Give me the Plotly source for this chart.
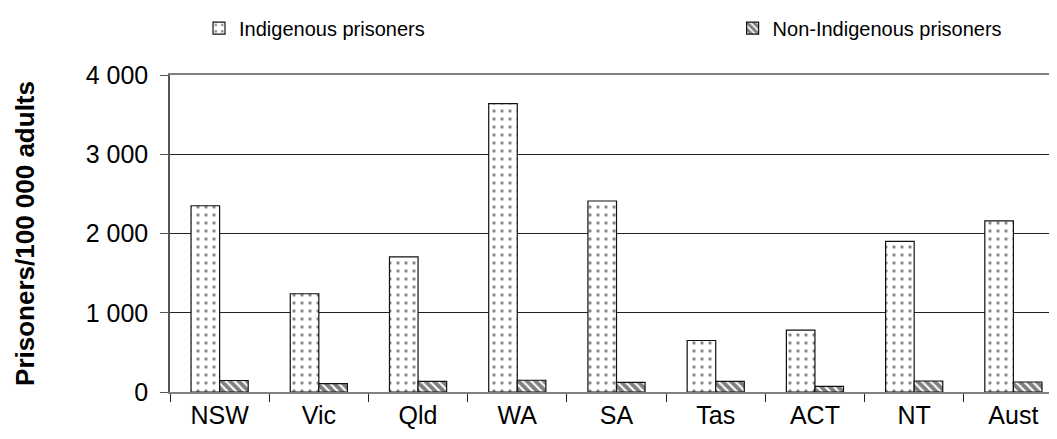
import plotly.graph_objects as go

categories = ["NSW", "Vic", "Qld", "WA", "SA", "Tas", "ACT", "NT", "Aust"]
indigenous = [2350, 1240, 1705, 3640, 2410, 650, 780, 1900, 2160]
non_indigenous = [145, 105, 135, 148, 122, 135, 72, 139, 126]
y_ticks = [0, 1000, 2000, 3000, 4000]

font_family = "Liberation Sans, Arial, sans-serif"

fig = go.Figure()
fig.add_trace(go.Bar(
    name="Indigenous prisoners",
    x=categories, y=indigenous,
    legend="legend",
    marker=dict(
        color="white",
        line=dict(color="#111111", width=1.2),
        pattern=dict(shape=".", fgcolor="#111111", bgcolor="white", size=8, solidity=0.13),
    ),
))
fig.add_trace(go.Bar(
    name="Non-Indigenous prisoners",
    x=categories, y=non_indigenous,
    legend="legend2",
    marker=dict(
        color="white",
        line=dict(color="#111111", width=1.2),
        pattern=dict(shape="\\", fgcolor="#000000", bgcolor="white", size=6, solidity=0.65),
    ),
))

legend_common = dict(
    orientation="h", yref="container", y=0.954, xanchor="left", yanchor="middle",
    font=dict(size=20), itemwidth=30, bgcolor="rgba(0,0,0,0)", borderwidth=0,
)

fig.update_layout(
    width=1057, height=439,
    margin=dict(l=162, r=2, t=67, b=55, autoexpand=False),
    paper_bgcolor="white", plot_bgcolor="white",
    barmode="group", bargap=0.424, bargroupgap=0,
    separators=". ",
    font=dict(family=font_family, size=25, color="black"),
    showlegend=True,
    legend=dict(x=0.0325, **legend_common),
    legend2=dict(x=0.630, **legend_common),
    xaxis=dict(
        showline=True, linecolor="#808080", linewidth=2, mirror=True,
        ticks="outside", tickson="boundaries", ticklen=8, tickcolor="#222222",
        tickfont=dict(size=25), showgrid=False,
    ),
    yaxis=dict(
        range=[0, 4000], tickvals=y_ticks, tickformat=",",
        showline=True, linecolor="#555555", linewidth=1.5,
        ticks="outside", ticklen=8, tickcolor="#555555", ticklabelstandoff=7,
        showgrid=True, gridcolor="#222222", gridwidth=1,
        zeroline=False, tickfont=dict(size=25),
        title=dict(text="<b>Prisoners/100 000 adults</b>", font=dict(size=26), standoff=44),
    ),
)

fig.write_html("out.html")
